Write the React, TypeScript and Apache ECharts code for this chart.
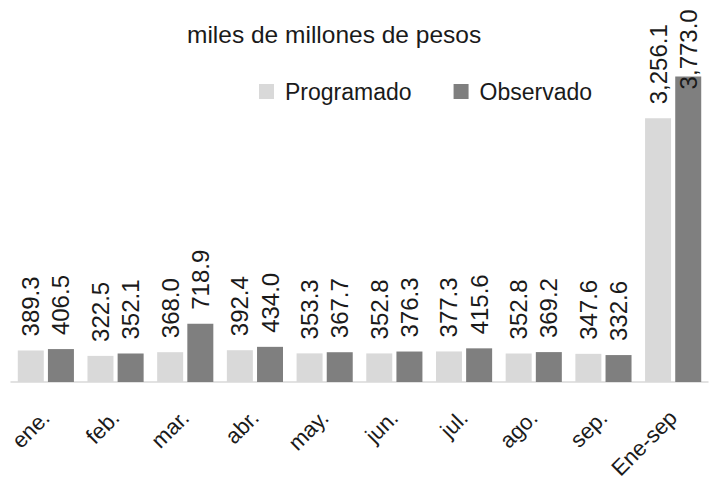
import React, { useEffect, useRef } from "react";
import * as echarts from "echarts";

const categories = ["ene.", "feb.", "mar.", "abr.", "may.", "jun.", "jul.", "ago.", "sep.", "Ene-sep"];
const programado = [389.3, 322.5, 368.0, 392.4, 353.3, 352.8, 377.3, 352.8, 347.6, 3256.1];
const observado = [406.5, 352.1, 718.9, 434.0, 367.7, 376.3, 415.6, 369.2, 332.6, 3773.0];
const titleText = "miles de millones de pesos";
const seriesNames = ["Programado", "Observado"];

const FONT = "Liberation Sans";

const fmt = (v: number) =>
  v.toLocaleString("en-US", { minimumFractionDigits: 1, maximumFractionDigits: 1 });

export default function App() {
  const ref = useRef<HTMLDivElement>(null);
  useEffect(() => {
    if (!ref.current) return;
    const chart = echarts.init(ref.current, undefined, { renderer: "svg" });
    const labelBase = {
      show: true,
      position: "top" as const,
      rotate: 90,
      align: "left" as const,
      verticalAlign: "middle" as const,
      distance: 14,
      fontSize: 24,
      fontFamily: FONT,
      color: "#1a1a1a",
      formatter: (p: any) => fmt(p.value as number),
    };
    const obsData = observado.map((v, i) =>
      i === observado.length - 1
        ? { value: v, label: { offset: [-27, 0] } }
        : v
    );
    chart.setOption({
      animation: false,
      backgroundColor: "#ffffff",
      title: {
        text: titleText,
        left: 182,
        top: 17,
        textStyle: { fontSize: 24.5, fontWeight: "normal", fontFamily: FONT, color: "#1a1a1a" },
      },
      legend: {
        left: 254,
        top: 75,
        itemWidth: 15,
        itemHeight: 15,
        itemGap: 42,
        icon: "rect",
        textStyle: { fontSize: 23, fontFamily: FONT, color: "#1a1a1a", padding: [0, 0, 0, 6] },
        data: seriesNames,
      },
      grid: { left: 11, right: 4, top: 58, bottom: 98, containLabel: false, outerBoundsMode: "none" },
      xAxis: {
        type: "category",
        data: categories,
        axisLine: { lineStyle: { color: "#d9d9d9", width: 1.5 } },
        axisTick: { show: false },
        axisLabel: {
          interval: 0,
          rotate: 45,
          margin: 32,
          fontSize: 22,
          fontFamily: FONT,
          color: "#1a1a1a",
        },
      },
      yAxis: {
        type: "value",
        min: 0,
        max: 4000,
        show: false,
        splitLine: { show: false },
      },
      series: [
        {
          name: seriesNames[0],
          type: "bar",
          data: programado,
          barWidth: 26,
          barGap: "16%",
          itemStyle: { color: "#d9d9d9" },
          label: labelBase,
        },
        {
          name: seriesNames[1],
          type: "bar",
          data: obsData,
          barWidth: 26,
          barGap: "16%",
          itemStyle: { color: "#7f7f7f" },
          label: labelBase,
        },
      ],
    });
    return () => chart.dispose();
  }, []);
  return <div ref={ref} style={{ width: 712, height: 480, position: "absolute", left: 0, top: 0 }} />;
}
